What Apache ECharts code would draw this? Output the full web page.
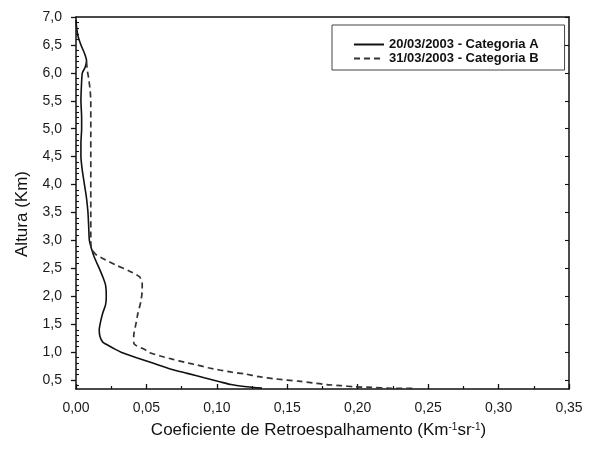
<!DOCTYPE html>
<html>
<head>
<meta charset="utf-8">
<script src="https://cdn.jsdelivr.net/npm/echarts@6/dist/echarts.min.js"></script>
<style>
  html, body { margin: 0; padding: 0; background: #fff; }
  #chart { width: 597px; height: 455px; }
</style>
</head>
<body>
<div id="chart"></div>
<script>
// Backscatter profiles: altitude (km) and backscatter coefficient (km^-1 sr^-1)
const seriesNames = ['20/03/2003 - Categoria A', '31/03/2003 - Categoria B'];

const heightA = [6.95, 6.80, 6.65, 6.50, 6.35, 6.22, 6.10, 6.00, 5.85, 5.50, 5.20, 5.00, 4.75, 4.50, 4.25, 4.00,
  3.75, 3.50, 3.25, 3.00, 2.85, 2.70, 2.50, 2.35, 2.20, 2.00, 1.85, 1.70, 1.55, 1.40, 1.28, 1.18, 1.12,
  1.05, 1.00, 0.90, 0.80, 0.70, 0.62, 0.54, 0.47, 0.42, 0.39, 0.37, 0.355];
const coefA = [0.000, 0.0005, 0.0015, 0.0035, 0.006, 0.0075, 0.0065, 0.0045, 0.004, 0.0035, 0.004, 0.004, 0.0035, 0.0035, 0.0045, 0.006,
  0.0075, 0.0085, 0.009, 0.0095, 0.011, 0.013, 0.0165, 0.019, 0.021, 0.0215, 0.021, 0.019, 0.0175, 0.0165, 0.017, 0.019, 0.023,
  0.028, 0.032, 0.043, 0.055, 0.067, 0.079, 0.091, 0.102, 0.110, 0.118, 0.125, 0.132];

const heightB = [6.20, 6.05, 5.90, 5.70, 5.50, 5.00, 4.50, 4.00, 3.50, 3.00, 2.85, 2.75, 2.65, 2.55, 2.45, 2.35, 2.25,
  2.10, 1.90, 1.70, 1.50, 1.30, 1.17, 1.13, 1.08, 1.03, 0.99, 0.93, 0.87, 0.82, 0.77, 0.72, 0.68, 0.64,
  0.61, 0.56, 0.52, 0.48, 0.45, 0.42, 0.40, 0.38, 0.37, 0.355, 0.35];
const coefB = [0.0075, 0.008, 0.009, 0.010, 0.0105, 0.0105, 0.0105, 0.0105, 0.0105, 0.0105, 0.011, 0.014, 0.021, 0.029, 0.038, 0.045, 0.047,
  0.047, 0.046, 0.044, 0.0425, 0.041, 0.041, 0.042, 0.046, 0.050, 0.0525, 0.060, 0.069, 0.077, 0.086, 0.094, 0.102, 0.111,
  0.120, 0.130, 0.142, 0.158, 0.168, 0.178, 0.188, 0.198, 0.210, 0.222, 0.240];

const yTicks = [0.5, 1.0, 1.5, 2.0, 2.5, 3.0, 3.5, 4.0, 4.5, 5.0, 5.5, 6.0, 6.5, 7.0];
const xMin = 0, xMax = 0.35, xStep = 0.05;
const yMin = 0.34, yMax = 7.0;

// minor ticks every 0.1 km between the labelled heights
const yMinor = [];
for (let i = 4; i <= 69; i++) { if (i % 5 !== 0) yMinor.push(i / 10); }

const FONT = '"Liberation Sans", Arial, sans-serif';
const INK = '#111';
const comma = (v, d) => v.toFixed(d).replace('.', ',');
const zip = (xs, ys) => xs.map((x, i) => [x, ys[i]]);

const chart = echarts.init(document.getElementById('chart'), null, { renderer: 'canvas' });

const axisLine = { show: true, lineStyle: { color: INK, width: 1.5 } };

chart.setOption({
  animation: false,
  backgroundColor: '#fff',
  grid: { left: 76, right: 28, top: 17, bottom: 66 },
  legend: {
    orient: 'vertical',
    left: 332, top: 25,
    itemWidth: 30, itemHeight: 10, itemGap: 1,
    padding: [13, 26, 5, 21],
    borderColor: '#444', borderWidth: 1,
    backgroundColor: '#fff',
    itemStyle: { opacity: 0 },
    textStyle: { fontFamily: FONT, fontSize: 13, fontWeight: 'bold', color: INK },
    data: seriesNames
  },
  xAxis: [
    {
      type: 'value', position: 'bottom',
      min: xMin, max: xMax, interval: xStep,
      axisLine: axisLine,
      axisTick: { show: true, inside: true, length: 5, lineStyle: { color: INK, width: 1.3 } },
      minorTick: { show: true, splitNumber: 2, length: 3, lineStyle: { color: INK, width: 1.2 } },
      axisLabel: { formatter: v => comma(v, 2), fontFamily: FONT, fontSize: 14, color: '#1a1a1a', margin: 12 },
      splitLine: { show: false },
      name: '{t|Coeficiente de Retroespalhamento (Km}{s|-1}{t|sr}{s|-1}{t|)}',
      nameLocation: 'middle', nameGap: 33,
      nameTextStyle: {
        padding: [0, 8, 0, 0],
        rich: {
          t: { fontFamily: FONT, fontSize: 17, color: INK },
          s: { fontFamily: FONT, fontSize: 10, color: INK, verticalAlign: 'top', padding: [0, 0, 7, 0] }
        }
      }
    },
    {
      type: 'value', position: 'top',
      min: xMin, max: xMax, interval: xStep,
      axisLine: axisLine,
      axisTick: { show: false }, axisLabel: { show: false }, splitLine: { show: false }
    }
  ],
  yAxis: [
    {
      type: 'value', position: 'left',
      min: yMin, max: yMax,
      axisLine: axisLine,
      axisTick: { show: true, customValues: yTicks, length: 5, lineStyle: { color: INK, width: 1.3 } },
      axisLabel: { customValues: yTicks, formatter: v => comma(v, 1), fontFamily: FONT, fontSize: 14, color: '#1a1a1a', margin: 14 },
      splitLine: { show: false },
      name: 'Altura (Km)', nameLocation: 'middle', nameRotate: 90, nameGap: 45,
      nameTextStyle: { fontFamily: FONT, fontSize: 17, color: INK, padding: [0, 22, 0, 0] }
    },
    {
      type: 'value', position: 'left',
      min: yMin, max: yMax,
      axisLine: { show: false },
      axisTick: { show: true, customValues: yMinor, inside: true, length: 3, lineStyle: { color: INK, width: 1.1 } },
      axisLabel: { show: false }, splitLine: { show: false }
    },
    {
      type: 'value', position: 'right',
      min: yMin, max: yMax,
      axisLine: axisLine,
      axisTick: { show: true, customValues: yTicks, inside: true, length: 4, lineStyle: { color: INK, width: 1.1 } },
      axisLabel: { show: false }, splitLine: { show: false }
    }
  ],
  series: [
    {
      name: seriesNames[0], type: 'line', xAxisIndex: 0, yAxisIndex: 0,
      data: zip(coefA, heightA), symbol: 'none', smooth: 0.2,
      lineStyle: { color: INK, width: 1.6 }, itemStyle: { color: INK }
    },
    {
      name: seriesNames[1], type: 'line', xAxisIndex: 0, yAxisIndex: 0,
      data: zip(coefB, heightB), symbol: 'none', smooth: 0.2,
      lineStyle: { color: '#333', width: 1.7, type: [6, 4] }, itemStyle: { color: '#333' }
    }
  ]
});
</script>
</body>
</html>
